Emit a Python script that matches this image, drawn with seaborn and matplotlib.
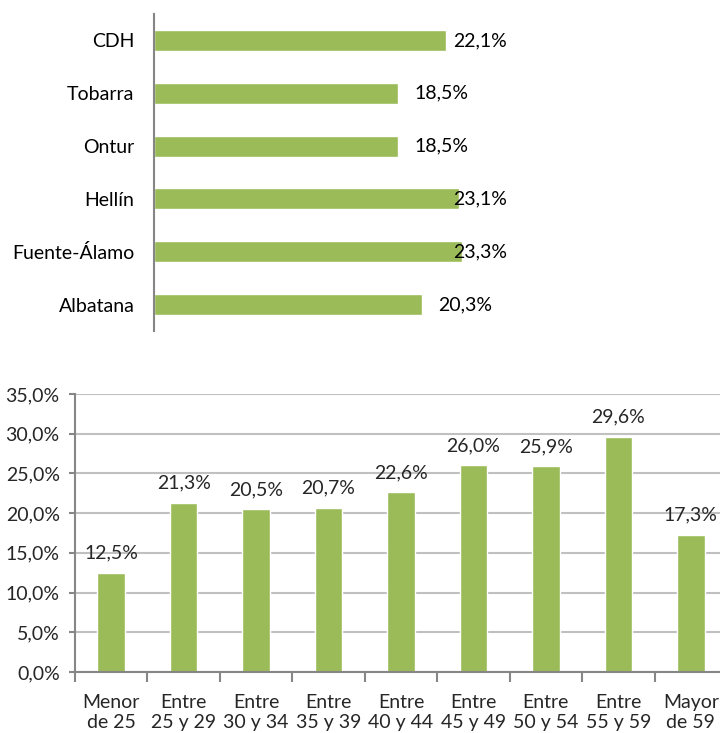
import matplotlib
matplotlib.use("Agg")
import matplotlib.pyplot as plt
import seaborn as sns
import pandas as pd
from matplotlib.ticker import FuncFormatter

# top chart: by municipality
municipios = ["CDH", "Tobarra", "Ontur", "Hellín", "Fuente-Álamo", "Albatana"]
valores_mun = [22.1, 18.5, 18.5, 23.1, 23.3, 20.3]

# bottom chart: by age group
edades = ["Menor\nde 25", "Entre\n25 y 29", "Entre\n30 y 34", "Entre\n35 y 39",
          "Entre\n40 y 44", "Entre\n45 y 49", "Entre\n50 y 54", "Entre\n55 y 59",
          "Mayor\nde 59"]
valores_edad = [12.5, 21.3, 20.5, 20.7, 22.6, 26.0, 25.9, 29.6, 17.3]

verde = "#9BBB59"
gris = "#868686"
fs = 14

sns.set_theme(style="white")
plt.rcParams["font.family"] = ["Lato", "DejaVu Sans"]
plt.rcParams["font.size"] = fs


def pct(v):
    return f"{v:.1f}".replace(".", ",") + "%"


df1 = pd.DataFrame({"mun": municipios, "val": valores_mun})
df2 = pd.DataFrame({"edad": edades, "val": valores_edad})

fig = plt.figure(figsize=(7.2, 7.33), dpi=100)

# ---- top ----
ax1 = fig.add_axes([154 / 720, 1 - 331 / 733, 396 / 720, 317 / 733])
sns.barplot(data=df1, x="val", y="mun", color=verde, width=0.4, ax=ax1,
            saturation=1, orient="h")
ax1.set_xlim(0, 30)
ax1.set_ylim(5.5, -0.5)
ax1.set_xlabel("")
ax1.set_ylabel("")
ax1.set_xticks([])
for s in ["top", "right", "bottom"]:
    ax1.spines[s].set_visible(False)
ax1.spines["left"].set_color(gris)
ax1.spines["left"].set_linewidth(1.5)
ax1.tick_params(axis="y", length=0, pad=14, labelsize=fs, colors="black")
for i, v in enumerate(valores_mun):
    ax1.text(min(v + 1.2, 22.7), i, pct(v), va="center", ha="left",
             fontsize=fs, color="black")

# ---- bottom ----
ax2 = fig.add_axes([75 / 720, 1 - 672 / 733, 652 / 720, 278 / 733])
sns.barplot(data=df2, x="edad", y="val", color=verde, width=0.38, ax=ax2,
            saturation=1)
ax2.set_ylim(0, 35)
ax2.set_xlim(-0.5, 8.5)
ax2.set_yticks(range(0, 36, 5))
ax2.yaxis.set_major_formatter(FuncFormatter(lambda v, p: pct(v)))
ax2.set_xlabel("")
ax2.set_ylabel("")
ax2.grid(axis="y", color="#c0c0c0", linewidth=1.5)
ax2.set_axisbelow(True)
for s in ["top", "right"]:
    ax2.spines[s].set_visible(False)
for s in ["left", "bottom"]:
    ax2.spines[s].set_color(gris)
    ax2.spines[s].set_linewidth(1.5)
ax2.set_xticks([x - 0.5 for x in range(10)], minor=True)
ax2.tick_params(axis="x", which="major", length=0, pad=16, labelsize=fs)
ax2.tick_params(axis="x", which="minor", length=7, width=1.5, color=gris,
                direction="out", bottom=True)
ax2.tick_params(axis="y", length=4, width=1.5, color=gris, left=True,
                direction="out", pad=7, labelsize=fs)
for i, v in enumerate(valores_edad):
    ax2.annotate(pct(v), (i, v), xytext=(0, 8), textcoords="offset points",
                 ha="center", va="bottom", fontsize=fs)

fig.savefig("out.png", dpi=100)
